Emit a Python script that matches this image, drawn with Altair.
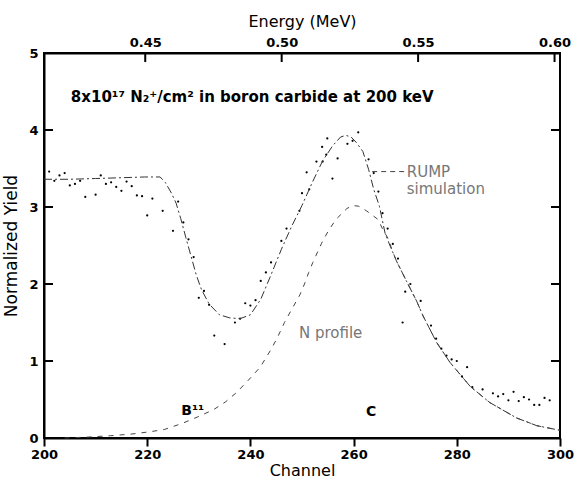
import altair as alt
import pandas as pd

# ---- experimental spectrum (channel, normalized yield) ----
data_ch = [201, 202, 203, 204, 205, 206, 207, 208, 210, 211, 212, 213, 214, 215, 216, 217, 218, 219,
           220, 221, 223, 225, 226, 227, 228, 229, 230, 231, 232, 233, 235, 237, 238, 239, 240, 241,
           242, 243, 244, 246, 247, 249.5, 250, 250.9, 251.4, 252.8, 253.9, 254.0, 254.7, 254.9,
           255.9, 256.9, 258.8, 259.8, 260.9, 262.9, 263.9, 264.8, 265.6, 266.6, 267.6, 268.6,
           269.5, 270, 271, 273, 275, 276, 277, 278, 279, 280, 281, 282, 283, 285, 287, 288, 289,
           290, 291, 292, 293, 294, 295, 296, 297, 298]
data_v = [3.46, 3.34, 3.41, 3.44, 3.28, 3.30, 3.34, 3.13, 3.16, 3.41, 3.30, 3.32, 3.26, 3.21, 3.33, 3.27, 3.15, 3.14,
          2.89, 3.11, 2.95, 2.69, 3.07, 2.80, 2.58, 2.35, 1.82, 1.91, 1.73, 1.33, 1.22, 1.50, 1.55, 1.75, 1.72, 1.79,
          2.04, 2.15, 2.28, 2.56, 2.72, 2.95, 3.18, 3.45, 3.23, 3.59, 3.78, 3.59, 3.68, 3.89,
          3.37, 3.63, 3.82, 3.86, 3.97, 3.62, 3.44, 3.20, 2.92, 2.72, 2.52, 2.33,
          1.50, 1.90, 2.00, 1.78, 1.46, 1.29, 1.16, 1.07, 1.02, 1.00, 0.80, 0.92, 0.66, 0.63, 0.58, 0.54, 0.57,
          0.49, 0.60, 0.48, 0.53, 0.50, 0.43, 0.43, 0.52, 0.49]

# ---- RUMP simulation ----
sim_ch = [200, 205, 210, 215, 219.5, 222.5, 223.5, 224.7, 225.6, 226.5, 227.5, 228.5, 229.5, 230.5, 232,
          234, 236, 238, 240, 242, 244, 246, 248, 250, 252, 254, 256, 257.5, 258.5, 259.5, 260.5, 261.8,
          262.9, 263.9, 265, 266.1, 267.1, 268.3, 270.3, 272.2, 273.5, 276.1, 278.7, 282.6, 286.4,
          291.6, 295.5, 300]
sim_v = [3.36, 3.36, 3.37, 3.38, 3.39, 3.39, 3.32, 3.18, 3.05, 2.85, 2.60, 2.36, 2.12, 1.93, 1.74,
         1.60, 1.56, 1.55, 1.60, 1.80, 2.12, 2.45, 2.75, 3.02, 3.32, 3.60, 3.80, 3.91, 3.93, 3.91, 3.84, 3.72,
         3.49, 3.23, 3.01, 2.66, 2.49, 2.30, 2.03, 1.78, 1.58, 1.24, 0.98, 0.67, 0.46,
         0.26, 0.16, 0.10]

# ---- N profile ----
nprof_ch = [204, 208, 212.9, 216.8, 220.4, 223.3, 226.8, 230, 232.9, 235.2, 237.3, 239.6, 241.9, 244,
            245.2, 246.6, 248, 249.6, 250.6, 251.3, 252.1, 253.8, 255.1, 256.6, 258.7, 259.8, 261, 262.5,
            264.7, 265.8, 266.8, 267.4, 268.3, 270.3, 272.2, 273.5, 276.1, 278.7, 282.6, 286.4, 291.6,
            295.5, 300]
nprof_v = [0.0, 0.01, 0.03, 0.05, 0.08, 0.11, 0.19, 0.28, 0.37, 0.47, 0.59, 0.75, 0.92, 1.15,
           1.30, 1.50, 1.67, 1.86, 2.02, 2.15, 2.28, 2.53, 2.69, 2.84, 2.98, 3.02, 3.01, 2.95,
           2.84, 2.69, 2.58, 2.45, 2.30, 2.03, 1.78, 1.58, 1.24, 0.98, 0.67, 0.46, 0.26,
           0.16, 0.10]

channel_ticks = [200, 220, 240, 260, 280, 300]
yield_ticks = [0, 1, 2, 3, 4, 5]
energy_ticks = [0.45, 0.50, 0.55, 0.60]
energy_domain = [0.4129, 0.6020]

title_text = ["8x10¹⁷ N₂⁺/cm² in boron carbide at 200 keV"]
title_ch = [205.2]
title_v = [4.43]
gray_labels = ["RUMP", "simulation", "N  profile"]
gray_ch = [270.3, 270.3, 249.4]
gray_v = [3.46, 3.24, 1.37]
bold_labels = ["B¹¹", "C"]
bold_ch = [226.6, 262.4]
bold_v = [0.35, 0.34]
leader_ch = [263.6]
leader_ch2 = [269.8]
leader_v = [3.46]

FONT = "DejaVu Sans"

df_data = pd.DataFrame({"ch": data_ch, "v": data_v})
df_sim = pd.DataFrame({"ch": sim_ch, "v": sim_v})
df_np = pd.DataFrame({"ch": nprof_ch, "v": nprof_v})
df_yt = pd.DataFrame({"ch": [200] * len(yield_ticks), "v": yield_ticks})
df_et = pd.DataFrame({"e": energy_ticks})
df_title = pd.DataFrame({"text": title_text, "ch": title_ch, "v": title_v})
df_gray = pd.DataFrame({"text": gray_labels, "ch": gray_ch, "v": gray_v})
df_bold = pd.DataFrame({"text": bold_labels, "ch": bold_ch, "v": bold_v})
df_lead = pd.DataFrame({"ch": leader_ch, "ch2": leader_ch2, "v": leader_v})

xs = alt.Scale(domain=[200, 300], nice=False, zero=False)
ys = alt.Scale(domain=[0, 5], nice=False, zero=False)
xax = alt.Axis(values=channel_ticks, title="Channel", labelPadding=2, titlePadding=1, labelFlush=False)
yax = alt.Axis(values=yield_ticks, title="Normalized Yield", ticks=False, labelPadding=6, titlePadding=8,
               labelFlush=False, titleFontSize=17)
X = alt.X("ch:Q", scale=xs, axis=xax)
Y = alt.Y("v:Q", scale=ys, axis=yax)

points = alt.Chart(df_data).mark_circle(size=5, color="black", opacity=1).encode(x=X, y=Y)

sim = alt.Chart(df_sim).mark_line(color="#333", strokeWidth=1, strokeDash=[8, 3, 2, 3]).encode(x=X, y=Y)
nprof = alt.Chart(df_np).mark_line(color="#444", strokeWidth=1, strokeDash=[5, 6]).encode(x=X, y=Y)

left_ticks = alt.Chart(df_yt).mark_rule(color="black", strokeWidth=2).encode(
    y=Y, x=alt.value(0), x2=alt.value(9)
)
right_ticks = alt.Chart(df_yt).mark_rule(color="black", strokeWidth=2).encode(
    y=Y, x=alt.value(516), x2=alt.value(507)
)

title_mark = alt.Chart(df_title).mark_text(align="left", baseline="middle", font=FONT, fontSize=15,
                                           fontWeight="bold", color="black").encode(
    x=X, y=Y, text="text:N"
)
gray_text = alt.Chart(df_gray).mark_text(align="left", baseline="middle", font=FONT, fontSize=15,
                                         color="#777").encode(x=X, y=Y, text="text:N")
bold_text = alt.Chart(df_bold).mark_text(align="left", baseline="middle", font=FONT, fontSize=14,
                                         fontWeight="bold", color="black").encode(x=X, y=Y, text="text:N")
leader = alt.Chart(df_lead).mark_rule(color="#444", strokeWidth=1, strokeDash=[5, 4]).encode(
    x=X, x2="ch2:Q", y=Y
)

channel_layer = alt.layer(points, sim, nprof, left_ticks, right_ticks, leader,
                          title_mark, gray_text, bold_text)

energy_layer = alt.Chart(df_et).mark_rule(color="black", strokeWidth=2).encode(
    x=alt.X("e:Q", scale=alt.Scale(domain=energy_domain, nice=False, zero=False),
            axis=alt.Axis(orient="top", values=energy_ticks, format=".2f", title="Energy (MeV)",
                          ticks=False, labelPadding=4, titlePadding=7, labelFlush=False)),
    y=alt.value(0), y2=alt.value(9),
)

chart = alt.layer(channel_layer, energy_layer).resolve_scale(x="independent").properties(
    width=516, height=385,
    autosize=alt.AutoSizeParams(type="none"),
    padding={"left": 44, "top": 53, "right": 15, "bottom": 44},
).configure_view(stroke="black", strokeWidth=2).configure_axis(
    domainColor="black", domainWidth=2, tickColor="black", tickWidth=2, tickSize=8,
    labelFont=FONT, labelFontSize=13, labelFontWeight="bold", labelColor="black",
    titleFont=FONT, titleFontSize=16, titleFontWeight="normal", titleColor="black", grid=False,
)

chart.save("out.html", embed_options={"renderer": "svg", "actions": False})
